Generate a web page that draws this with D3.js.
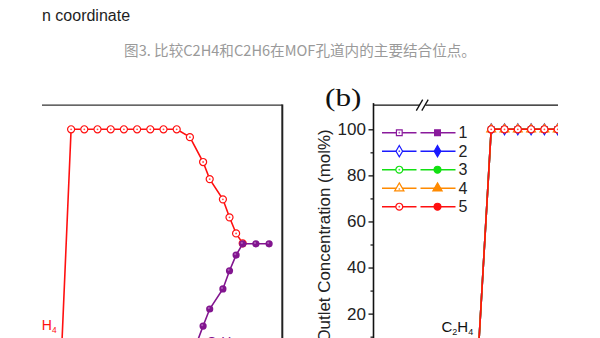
<!DOCTYPE html>
<html>
<head>
<meta charset="utf-8">
<script src="https://cdn.jsdelivr.net/npm/d3@7"></script>
<style>
  body { margin: 0; background: #fff; }
  svg text { font-family: "Liberation Sans", Arial, sans-serif; }
</style>
</head>
<body>
<svg id="chart" width="600" height="338"></svg>
<script>
// ---- text ----
const pageLine = "n coordinate";
const caption = "图3. 比较C2H4和C2H6在MOF孔道内的主要结合位点。";
const panelLabel = "(b)";
const yAxisTitle = "Outlet Concentration (mol%)";

// ---- shared y axis (outlet concentration, mol%) ----
const yMajorTicks = [0, 20, 40, 60, 80, 100];
const yMinorTicks = [10, 30, 50, 70, 90];

// ---- panel (a): single column, breakthrough time (arb. units) ----
const timeA_C2H4 = [1.25, 2, 3, 4, 5, 6, 7, 8, 9, 10, 11, 12, 12.5, 13.5, 14, 14.5, 15];
const concA_C2H4 = [0, 100, 100, 100, 100, 100, 100, 100, 100, 100, 96.6, 85.8, 78.4, 69.6, 61.8, 54.8, 50.5];
const timeA_C2H6 = [11, 11.5, 12, 12.5, 13.5, 14, 14.5, 15, 16, 17];
const concA_C2H6 = [0.5, 7, 14.6, 22.0, 30.7, 38.6, 45.4, 50.3, 50.3, 50.3];

// ---- panel (b): C2H4 breakthrough for cycles 1-5 ----
const cycles = ["1", "2", "3", "4", "5"];
const cycleColors = ["#8a1a9c", "#1a1aff", "#12e012", "#ff8a00", "#ff1010"];
const cycleShapes = ["square", "diamond", "circle", "triangle", "circle"];
const timeB = [8, 9, 10, 11, 12, 13, 14];
const concB_1 = [0, 100, 100, 100, 100, 100, 100];
const concB_2 = [0, 100, 100, 100, 100, 100, 100];
const concB_3 = [0, 100, 100, 100, 100, 100, 100];
const concB_4 = [0, 100, 100, 100, 100, 100, 100];
const concB_5 = [0, 100, 100, 100, 100, 100, 100];
const concB = [concB_1, concB_2, concB_3, concB_4, concB_5];

const svg = d3.select("#chart");

// page text above the figure
svg.append("text").attr("x", 42).attr("y", 20.5)
  .attr("font-size", 16).attr("fill", "#1e1e1e").text(pageLine);
svg.append("text").attr("x", 300).attr("y", 55.5)
  .attr("text-anchor", "middle")
  .style("font-family", '"Noto Sans CJK SC", sans-serif')
  .attr("font-size", 14.6).attr("fill", "#9a9a9a").text(caption);

// scales
const y = d3.scaleLinear().domain([0, 100]).range([359.7, 129.3]);
const xA = d3.scaleLinear().domain([0, 18]).range([44.7, 282.3]);
const xB = d3.scaleLinear().domain([0, 14]).range([371.5, 557.7]);
const frameTop = y(110.5);

const defs = svg.append("defs");
defs.append("clipPath").attr("id", "clipA").append("rect")
  .attr("x", 42).attr("y", frameTop).attr("width", xA(18) - 42).attr("height", 338 - frameTop);
defs.append("clipPath").attr("id", "clipB").append("rect")
  .attr("x", xB(0.15)).attr("y", frameTop - 30).attr("width", 558 - xB(0.15)).attr("height", 400);

const symbolType = {
  square: d3.symbolSquare, diamond: d3.symbolDiamond,
  circle: d3.symbolCircle, triangle: d3.symbolTriangle
};
const symbolSize = { square: 30, diamond: 34, circle: 34, triangle: 34 };

function marker(g, shape, color, filled, cx, cy, scale = 1) {
  const s = g.append("path")
    .attr("d", d3.symbol().type(symbolType[shape]).size(symbolSize[shape] * scale)())
    .attr("transform", `translate(${cx},${cy})`)
    .attr("fill", filled ? color : "#fff")
    .attr("stroke", color).attr("stroke-width", 1.2);
  if (!filled) {
    g.append("circle").attr("cx", cx).attr("cy", cy + (shape === "triangle" ? 0.8 : 0))
      .attr("r", 0.9).attr("fill", color).attr("opacity", 0.75);
  }
  return s;
}

const line = (xs) => d3.line().x(d => xs(d[0])).y(d => y(d[1]));

// ---------------- panel (a) ----------------
const gA = svg.append("g").attr("clip-path", "url(#clipA)");
const dataA4 = timeA_C2H4.map((t, i) => [t, concA_C2H4[i]]);
const dataA6 = timeA_C2H6.map((t, i) => [t, concA_C2H6[i]]);

gA.append("path").datum(dataA4).attr("d", line(xA))
  .attr("fill", "none").attr("stroke", "#ff1010").attr("stroke-width", 1.6);
dataA4.forEach(d => marker(gA, "circle", "#ff1010", false, xA(d[0]), y(d[1]), 1.15));

gA.append("path").datum(dataA6).attr("d", line(xA))
  .attr("fill", "none").attr("stroke", "#82158f").attr("stroke-width", 1.6);
dataA6.forEach(d => {
  gA.append("circle").attr("cx", xA(d[0])).attr("cy", y(d[1])).attr("r", 3.6)
    .attr("fill", "#82158f");
  gA.append("circle").attr("cx", xA(d[0]) - 0.9).attr("cy", y(d[1]) - 0.9).attr("r", 1.1)
    .attr("fill", "#c58ad0").attr("opacity", 0.6);
});

function gasLabel(g, x, yb, sub1, sub2, color, size) {
  const t = g.append("text").attr("x", x).attr("y", yb)
    .attr("font-size", size).attr("fill", color);
  t.append("tspan").text("C");
  t.append("tspan").attr("font-size", size * 0.6).attr("dy", 3).text(sub1);
  t.append("tspan").attr("dy", -3).text("H");
  t.append("tspan").attr("font-size", size * 0.6).attr("dy", 3).text(sub2);
}
gasLabel(gA, 27, 329.5, "2", "4", "#ff1010", 14);
gasLabel(gA, 206.5, 347, "2", "6", "#82158f", 14);

// frame of panel (a)
svg.append("line").attr("x1", 42).attr("x2", xA(18)).attr("y1", frameTop).attr("y2", frameTop)
  .attr("stroke", "#333").attr("stroke-width", 1.4);
svg.append("line").attr("x1", xA(18)).attr("x2", xA(18)).attr("y1", frameTop - 0.7).attr("y2", 340)
  .attr("stroke", "#222").attr("stroke-width", 2);

// ---------------- panel (b) ----------------
const axisX = xB(0.15);
const gB = svg.append("g").attr("clip-path", "url(#clipB)");
concB.forEach((vals, k) => {
  const data = timeB.map((t, i) => [t, vals[i]]);
  gB.append("path").datum(data).attr("d", line(xB))
    .attr("fill", "none").attr("stroke", cycleColors[k]).attr("stroke-width", 1.6);
  data.filter(d => d[1] > 0).forEach(d =>
    marker(gB, cycleShapes[k], cycleColors[k], false, xB(d[0]), y(d[1]), k === 4 ? 1.15 : 1));
});
gasLabel(gB, 441.5, 331.5, "2", "4", "#111", 15);

// y axis with major and minor ticks
const yAxisG = svg.append("g").attr("transform", `translate(${axisX},0)`);
yAxisG.call(d3.axisLeft(y).tickValues(yMajorTicks).tickSize(5).tickPadding(2.5).tickFormat(d3.format("d")))
  .call(g => g.select(".domain").remove());
yAxisG.selectAll(".tick line").attr("stroke", "#111").attr("stroke-width", 1.3);
yAxisG.selectAll(".tick text").attr("font-size", 17).attr("fill", "#222")
  .style("font-family", '"Liberation Sans", Arial, sans-serif');
yAxisG.append("g").call(d3.axisLeft(y).tickValues(yMinorTicks).tickSize(3).tickFormat(""))
  .call(g => g.select(".domain").remove())
  .selectAll("line").attr("stroke", "#111").attr("stroke-width", 1.2);
svg.append("line").attr("x1", axisX).attr("x2", axisX).attr("y1", frameTop - 2).attr("y2", 340)
  .attr("stroke", "#111").attr("stroke-width", 1.6);

// top axis with a break mark
svg.append("line").attr("x1", axisX).attr("x2", 420).attr("y1", frameTop).attr("y2", frameTop)
  .attr("stroke", "#111").attr("stroke-width", 1.4);
svg.append("line").attr("x1", 425.5).attr("x2", 558).attr("y1", frameTop).attr("y2", frameTop)
  .attr("stroke", "#111").attr("stroke-width", 1.4);
[419.5, 425].forEach(bx => {
  svg.append("line").attr("x1", bx - 3.2).attr("y1", frameTop + 5.5)
    .attr("x2", bx + 3.2).attr("y2", frameTop - 5.5)
    .attr("stroke", "#111").attr("stroke-width", 1.3);
});

// y axis title
svg.append("text")
  .attr("transform", "translate(329.5,236) rotate(-90)")
  .attr("text-anchor", "middle").attr("font-size", 16.9).attr("fill", "#222")
  .text(yAxisTitle);

// panel label
svg.append("text")
  .attr("transform", "translate(325,105.5) scale(1.2,1)")
  .style("font-family", '"Liberation Serif", "Times New Roman", serif')
  .attr("font-size", 26).attr("fill", "#111").text(panelLabel);

// legend: open (C2H4) and filled (C2H6) symbols for each cycle
const legendY = d3.scalePoint().domain(cycles).range([132.7, 206.7]);
const legend = svg.append("g");
cycles.forEach((c, k) => {
  const ly = legendY(c);
  const col = cycleColors[k];
  legend.append("line").attr("x1", 382).attr("x2", 416.5).attr("y1", ly).attr("y2", ly)
    .attr("stroke", col).attr("stroke-width", 1.6);
  legend.append("line").attr("x1", 420.5).attr("x2", 455.5).attr("y1", ly).attr("y2", ly)
    .attr("stroke", col).attr("stroke-width", 1.6);
  marker(legend, cycleShapes[k], col, false, 399.3, ly, 1.1);
  marker(legend, cycleShapes[k], col, true, 437.5, ly, 1.1);
  legend.append("text").attr("x", 458.5).attr("y", ly + 5.5)
    .attr("font-size", 16).attr("fill", "#222").text(c);
});
</script>
</body>
</html>
